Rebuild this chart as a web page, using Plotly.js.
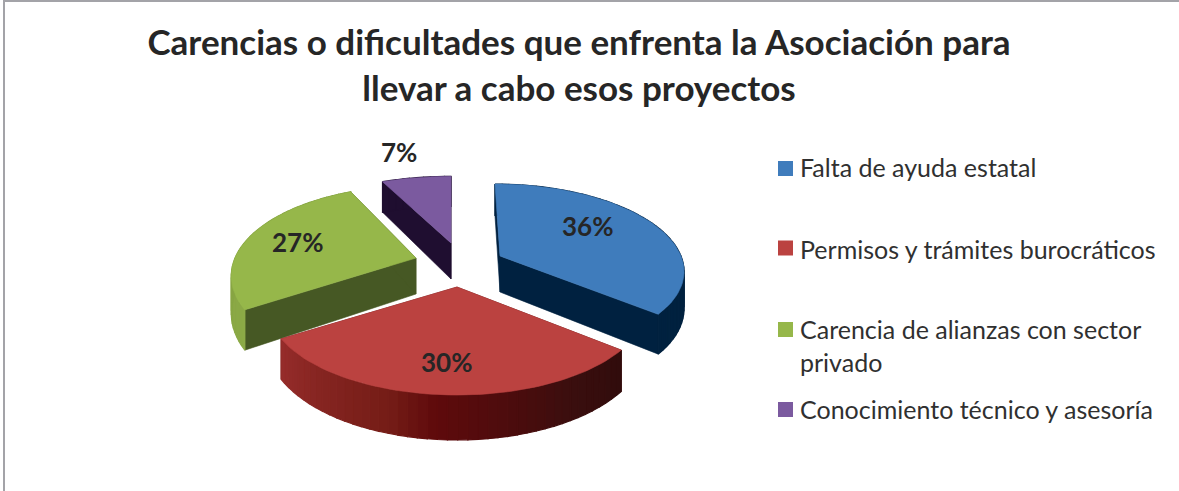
<!DOCTYPE html>
<html>
<head>
<meta charset="utf-8">
<script src="https://cdn.plot.ly/plotly-3.0.1.min.js"></script>
<style>html,body{margin:0;padding:0;background:#fff;overflow:hidden}</style>
</head>
<body>
<div id="chart" style="width:1179px;height:491px"></div>
<script>
// Data
var categories = ["Falta de ayuda estatal", "Permisos y trámites burocráticos", "Carencia de alianzas con sector<br>privado", "Conocimiento técnico y asesoría"];
var values = [36, 30, 27, 7];
var chartTitle = "Carencias o dificultades que enfrenta la Asociación para<br>llevar a cabo esos proyectos";

// Styling
var topColors = ["#3f7cbc", "#bb4240", "#96b74a", "#7b5a9f"];
var wallColors = ["#002140", "#5e1110", "#465824", "#1f0e30"];
var rimStops = [
  [[0, "#00213f"], [1, "#00213f"]],
  [[0, "#300c0c"], [0.18, "#3a0e0e"], [0.52, "#5f0a0c"], [0.62, "#741c16"], [1, "#962d2b"]],
  [[0, "#8caa46"], [1, "#7b993b"]],
  [[0, "#1f0e30"], [1, "#1f0e30"]]
];

// Projection of the tilted, exploded pie, in picture pixels
var apexX = [500, 457, 416, 451];
var apexY = [256, 287, 258, 243];
var radiusX = [181, 186, 181, 190];
var radiusY = [82.8, 86.4, 86.4, 80];
var lean = [0.07, 0, 0, 0];
var perspective = [0.15, 0.2, 0.2, 0.2];
var depth = 36;
var labelX = [587, 446, 297, 399];
var labelY = [226, 362, 242, 152];
var legendKeyY = [168.5, 248, 329.5, 409.5];
var legendTextY = [167, 249, 345, 409];

function project(i, deg, dropped) {
  var t = deg * Math.PI / 180, X = Math.sin(t), Y = -Math.cos(t), w = 1 - perspective[i] * Y;
  var y = radiusY[i] * Y / w;
  return [apexX[i] + radiusX[i] * X / w + lean[i] * y, apexY[i] + y + (dropped ? depth / w : 0)];
}
function hex(c) { return [1, 3, 5].map(function (k) { return parseInt(c.substr(k, 2), 16); }); }
function mix(stops, f) {
  for (var k = 1; k < stops.length; k++) {
    if (f <= stops[k][0]) {
      var a = stops[k - 1], b = stops[k], u = (f - a[0]) / (b[0] - a[0]), A = hex(a[1]), B = hex(b[1]);
      return "rgb(" + A.map(function (v, n) { return Math.round(v + (B[n] - v) * u); }).join(",") + ")";
    }
  }
  return stops[stops.length - 1][1];
}
function poly(points, color, width) {
  return {
    x: points.map(function (p) { return p[0]; }).concat(points[0][0]),
    y: points.map(function (p) { return p[1]; }).concat(points[0][1]),
    type: "scatter", mode: "lines", fill: "toself", fillcolor: color,
    line: { color: color, width: width }, hoverinfo: "skip", showlegend: false
  };
}

var total = values.reduce(function (a, b) { return a + b; }, 0);
var angles = [0];
values.forEach(function (v, i) { angles.push(angles[i] + v / total * 360); });

var order = [3, 2, 0, 1];
var traces = [];
order.forEach(function (i) {
  var a0 = angles[i], a1 = angles[i + 1], ap = [apexX[i], apexY[i]], apD = [apexX[i], apexY[i] + depth];
  // inner walls
  traces.push(poly([ap, project(i, a0, false), project(i, a0, true), apD], wallColors[i], 0.6));
  traces.push(poly([ap, project(i, a1, false), project(i, a1, true), apD], wallColors[i], 0.6));
  // outer rim, in narrow strips so it can shade
  var n = Math.max(4, Math.round((a1 - a0) / 2.5));
  for (var k = 0; k < n; k++) {
    var b0 = a0 + (a1 - a0) * k / n, b1 = a0 + (a1 - a0) * (k + 1) / n;
    traces.push(poly([project(i, b0, false), project(i, b1, false), project(i, b1, true), project(i, b0, true)],
      mix(rimStops[i], (k + 0.5) / n), 1.2));
  }
  // top face
  var top = [ap];
  for (var d = 0; d <= 60; d++) top.push(project(i, a0 + (a1 - a0) * d / 60, false));
  traces.push(poly(top, topColors[i], 0.6));
});

var annotations = [];
values.forEach(function (v, i) {
  annotations.push({
    x: labelX[i], y: labelY[i], xref: "x", yref: "y", text: "<b>" + v + "%</b>", showarrow: false,
    font: { family: "Lato, 'Open Sans', sans-serif", size: 26, color: "#262626" }
  });
});
categories.forEach(function (c, i) {
  annotations.push({
    x: 798, y: legendTextY[i], xref: "x", yref: "y", text: c, showarrow: false,
    xanchor: "left", align: "left",
    font: { family: "Lato, 'Open Sans', sans-serif", size: 25, color: "#303030" }
  });
});

var shapes = [
  { type: "line", xref: "x", yref: "y", x0: 4, x1: 4, y0: 1, y1: 491, line: { color: "#a3a3a8", width: 2 } },
  { type: "line", xref: "x", yref: "y", x0: 3, x1: 1179, y0: 1, y1: 1, line: { color: "#a3a3a8", width: 2 } }
];
legendKeyY.forEach(function (y, i) {
  shapes.push({
    type: "rect", xref: "x", yref: "y", x0: 778, x1: 793, y0: y - 7.5, y1: y + 7.5,
    fillcolor: topColors[i], line: { width: 0 }
  });
});

var layout = {
  width: 1179, height: 491,
  margin: { l: 0, r: 0, t: 0, b: 0 },
  paper_bgcolor: "#ffffff", plot_bgcolor: "#ffffff",
  title: {
    text: "<b>" + chartTitle.replace("<br>", "</b><br><b>") + "</b>",
    x: 579 / 1179, xanchor: "center", xref: "paper",
    y: 1 - 55 / 491, yanchor: "middle", yref: "paper",
    font: { family: "Lato, 'Open Sans', sans-serif", size: 35, color: "#262626" }
  },
  xaxis: { range: [0, 1179], visible: false, fixedrange: true },
  yaxis: { range: [491, 0], visible: false, fixedrange: true },
  showlegend: false,
  annotations: annotations,
  shapes: shapes
};
Plotly.newPlot("chart", traces, layout, { displayModeBar: false, staticPlot: true });
</script>
</body>
</html>
